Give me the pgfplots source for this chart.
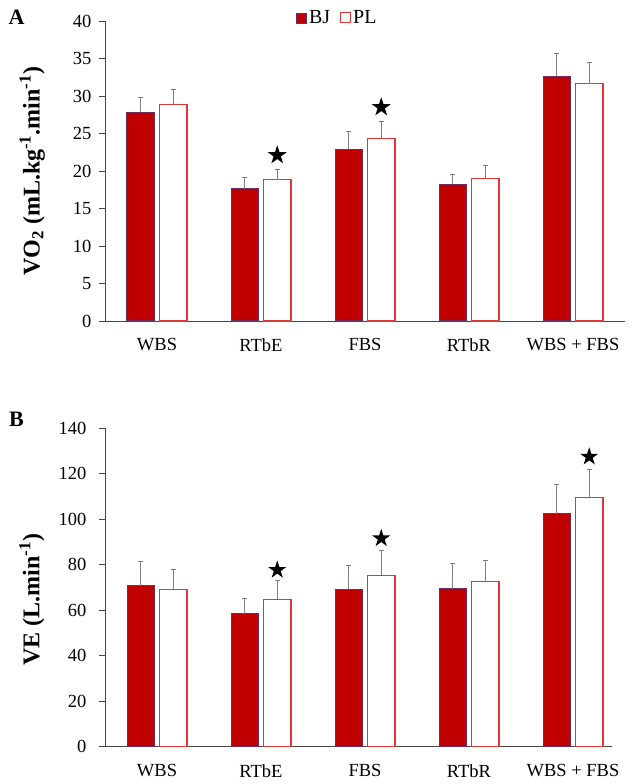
\documentclass[border=0pt]{standalone}
\usepackage{fontspec}
\setmainfont{Liberation Serif}
\usepackage{pgfplots}
\pgfplotsset{compat=1.18}

\definecolor{bjfill}{RGB}{192,0,0}
\definecolor{bjedge}{RGB}{110,45,95}
\definecolor{pledge}{RGB}{222,55,55}
\definecolor{errgray}{RGB}{128,128,128}
\definecolor{axgray}{RGB}{70,70,70}

\pgfdeclareplotmark{fstar}{%
 \pgfpathmoveto{\pgfpointpolar{90}{\pgfplotmarksize}}%
 \pgfpathlineto{\pgfpointpolar{126}{0.382\pgfplotmarksize}}%
 \pgfpathlineto{\pgfpointpolar{162}{\pgfplotmarksize}}%
 \pgfpathlineto{\pgfpointpolar{198}{0.382\pgfplotmarksize}}%
 \pgfpathlineto{\pgfpointpolar{234}{\pgfplotmarksize}}%
 \pgfpathlineto{\pgfpointpolar{270}{0.382\pgfplotmarksize}}%
 \pgfpathlineto{\pgfpointpolar{306}{\pgfplotmarksize}}%
 \pgfpathlineto{\pgfpointpolar{342}{0.382\pgfplotmarksize}}%
 \pgfpathlineto{\pgfpointpolar{18}{\pgfplotmarksize}}%
 \pgfpathlineto{\pgfpointpolar{54}{0.382\pgfplotmarksize}}%
 \pgfpathclose\pgfusepathqfill}

\pgfplotsset{
 panel/.style={
  scale only axis, clip=false,
  xtick={0,...,4}, xticklabels={WBS,RTbE,FBS,RTbR,WBS + FBS},
  axis x line=bottom, axis y line=left,
  axis line style={-, axgray, line width=0.8pt},
  x tick style={draw=none},
  y tick style={axgray, line width=0.8pt},
  tick align=outside, major tick length=6pt,
  ymin=0, xmin=-0.5,
  /pgf/number format/assume math mode=true,
  yticklabel style={font=\fontsize{18.5}{20}\selectfont},
  xticklabel style={font=\fontsize{18.5}{20}\selectfont, yshift=-8pt},
  ylabel style={font=\bfseries\fontsize{24}{26}\selectfont, anchor=center},
 },
 bj/.style={ybar, bar width=27.5pt, bar shift=-16.25pt, fill=bjfill, draw=bjedge, line width=1pt,
  legend image code/.code={\draw[fill=bjfill, draw=bjedge, line width=0.8pt] (0pt,-5pt) rectangle (10pt,5pt);}},
 pl/.style={ybar, bar width=27.5pt, bar shift=16.25pt, fill=white, draw=pledge, line width=1.2pt,
  legend image code/.code={\draw[fill=white, draw=pledge, line width=1pt] (0pt,-5pt) rectangle (10pt,5pt);}},
 errs/.style={forget plot, draw=none, mark=none,
  error bars/.cd, y dir=plus, y explicit,
  error bar style={draw=errgray, solid, line width=1.3pt},
  error mark options={rotate=90, draw=errgray, solid, mark size=2.5pt, line width=1.1pt}},
}

\begin{document}
\begin{tikzpicture}
\begin{axis}[panel, width=520pt, height=300pt, xmax=4.5, ymax=40, ytick={0,5,...,40},
  yticklabel style={xshift=-4pt},
  ylabel={VO\textsubscript{2} (mL.kg\textsuperscript{-1}.min\textsuperscript{-1})},
  ylabel style={at={(axis description cs:-0.140,0.5)}},
  legend style={at={(axis description cs:0.447,1.01)}, anchor=center, draw=none, fill=none,
    font=\fontsize{20}{20}\selectfont, legend columns=2,
    /tikz/every even column/.append style={column sep=8pt}},
  legend cell align=left]
\addplot[bj] coordinates {(0,27.8) (1,17.6) (2,22.9) (3,18.2) (4,32.6)};
\addlegendentry{BJ}
\addplot[pl] coordinates {(0,28.9) (1,18.85) (2,24.35) (3,19.05) (4,31.65)};
\addlegendentry{PL}
\addplot[errs] coordinates {(-0.156,27.8) +- (0,2.0) (0.844,17.6) +- (0,1.55) (1.844,22.9) +- (0,2.35) (2.844,18.2) +- (0,1.35) (3.844,32.6) +- (0,3.1)};
\addplot[errs] coordinates {(0.156,28.9) +- (0,2.0) (1.156,18.85) +- (0,1.35) (2.156,24.35) +- (0,2.2) (3.156,19.05) +- (0,1.7) (4.156,31.65) +- (0,2.8)};
\addplot[only marks, mark=fstar, mark size=10pt, black, forget plot] coordinates {(1.156,22.1) (2.156,28.5)};
\end{axis}

\begin{axis}[panel, at={(0pt,-107.3pt)}, anchor=north west, width=507pt, height=318.4pt, xmax=4.375,
  ymax=140, ytick={0,20,...,140},
  yticklabel style={xshift=-9pt},
  ylabel={VE (L.min\textsuperscript{-1})},
  ylabel style={at={(axis description cs:-0.144,0.461)}}]
\addplot[bj] coordinates {(0,70.8) (1,58.5) (2,69.2) (3,69.35) (4,102.5)};
\addplot[pl] coordinates {(0,69.2) (1,64.8) (2,75.4) (3,72.6) (4,109.7)};
\addplot[errs] coordinates {(-0.156,70.8) +- (0,10.7) (0.844,58.5) +- (0,6.8) (1.844,69.2) +- (0,10.6) (2.844,69.35) +- (0,11.4) (3.844,102.5) +- (0,12.7)};
\addplot[errs] coordinates {(0.156,69.2) +- (0,8.8) (1.156,64.8) +- (0,8.2) (2.156,75.4) +- (0,10.7) (3.156,72.6) +- (0,9.4) (4.156,109.7) +- (0,12.3)};
\addplot[only marks, mark=fstar, mark size=9.5pt, black, forget plot] coordinates {(1.156,77.7) (2.156,91.6) (4.156,127.5)};
\end{axis}

\node[font=\bfseries\fontsize{22}{22}\selectfont] at (-88.5pt,303.5pt) {A};
\node[font=\bfseries\fontsize{22}{22}\selectfont] at (-88.5pt,-98.5pt) {B};

\pgfresetboundingbox
\path[use as bounding box] (-105pt,-463pt) rectangle (528pt,321pt);
\end{tikzpicture}
\end{document}
